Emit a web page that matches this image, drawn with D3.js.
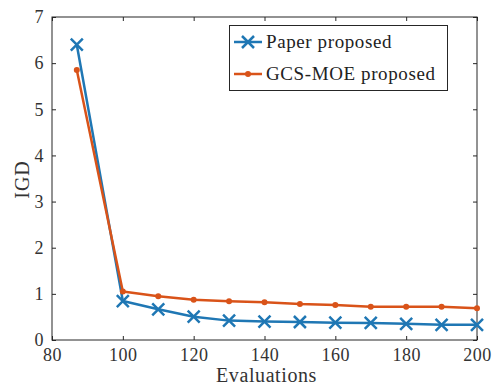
<!DOCTYPE html>
<html><head><meta charset="utf-8">
<script src="https://cdn.jsdelivr.net/npm/d3@7/dist/d3.min.js"></script>
<style>body{margin:0;background:#fff}svg{display:block}</style>
</head><body>
<script>
const evaluations = [87, 100, 110, 120, 130, 140, 150, 160, 170, 180, 190, 200];
const paperProposed = [6.40, 0.845, 0.665, 0.505, 0.42, 0.40, 0.39, 0.375, 0.37, 0.35, 0.33, 0.33];
const gcsMoeProposed = [5.85, 1.05, 0.95, 0.87, 0.84, 0.82, 0.78, 0.76, 0.72, 0.72, 0.72, 0.69];
const xTicks = [80, 100, 120, 140, 160, 180, 200];
const yTicks = [0, 1, 2, 3, 4, 5, 6, 7];
const seriesNames = ["Paper proposed", "GCS-MOE proposed"];
const seriesColors = ["#1f77b4", "#d95319"];

const W = 503, H = 386;
const m = {left: 52, right: 26, top: 17, bottom: 46};
const svg = d3.select("body").append("svg").attr("width", W).attr("height", H);
const x = d3.scaleLinear().domain([80, 200]).range([m.left, W - m.right]);
const y = d3.scaleLinear().domain([0, 7]).range([H - m.bottom, m.top]);
const font = "'Liberation Serif','DejaVu Serif',serif";
const axisColor = "#262626";

svg.append("rect").attr("x", x(80)).attr("y", y(7)).attr("width", x(200) - x(80)).attr("height", y(0) - y(7))
  .attr("fill", "none").attr("stroke", axisColor).attr("stroke-width", 1);

function styleAxis(g) {
  g.select(".domain").remove();
  g.selectAll(".tick line").attr("stroke", axisColor);
  g.selectAll(".tick text").attr("font-family", font).attr("font-size", 18).attr("fill", "#333")
    .attr("letter-spacing", 0.5);
}
svg.append("g").attr("transform", `translate(0,${y(0)})`)
  .call(d3.axisBottom(x).tickValues(xTicks).tickSizeInner(-4).tickSizeOuter(0).tickPadding(8).tickFormat(d3.format("d")))
  .call(styleAxis);
svg.append("g").attr("transform", `translate(0,${y(7)})`)
  .call(d3.axisTop(x).tickValues(xTicks).tickSizeInner(-4).tickSizeOuter(0).tickFormat(""))
  .call(styleAxis);
svg.append("g").attr("transform", `translate(${x(80)},0)`)
  .call(d3.axisLeft(y).tickValues(yTicks).tickSizeInner(-4).tickSizeOuter(0).tickPadding(8).tickFormat(d3.format("d")))
  .call(styleAxis);
svg.append("g").attr("transform", `translate(${x(200)},0)`)
  .call(d3.axisRight(y).tickValues(yTicks).tickSizeInner(-4).tickSizeOuter(0).tickFormat(""))
  .call(styleAxis);

svg.append("text").attr("x", (x(80) + x(200)) / 2 + 2).attr("y", 382).attr("text-anchor", "middle")
  .attr("font-family", font).attr("font-size", 20).attr("letter-spacing", 0.6).attr("fill", "#333").text("Evaluations");
svg.append("text").attr("transform", `translate(29,${(y(0) + y(7)) / 2 + 1}) rotate(-90)`).attr("text-anchor", "middle")
  .attr("font-family", font).attr("font-size", 20).attr("letter-spacing", 1).attr("fill", "#333").text("IGD");

const line = d3.line().x(d => x(d[0])).y(d => y(d[1]));
const data = [paperProposed, gcsMoeProposed].map(vals => evaluations.map((e, i) => [e, vals[i]]));

function drawMarker(g, i, cx, cy) {
  if (i === 0) {
    const s = 6;
    g.append("path").attr("d", `M${cx - s},${cy - s}L${cx + s},${cy + s}M${cx - s},${cy + s}L${cx + s},${cy - s}`)
      .attr("stroke", seriesColors[0]).attr("stroke-width", 2.5).attr("fill", "none");
  } else {
    g.append("circle").attr("cx", cx).attr("cy", cy).attr("r", 3).attr("fill", seriesColors[1]);
  }
}

[0, 1].forEach(i => {
  const g = svg.append("g");
  g.append("path").datum(data[i]).attr("d", line).attr("fill", "none")
    .attr("stroke", seriesColors[i]).attr("stroke-width", 2.5).attr("stroke-linejoin", "round");
  data[i].forEach(d => drawMarker(g, i, x(d[0]), y(d[1])));
});

const lg = svg.append("g");
lg.append("rect").attr("x", 229.5).attr("y", 25.5).attr("width", 218).attr("height", 65)
  .attr("fill", "#fff").attr("stroke", axisColor).attr("stroke-width", 1);
seriesNames.forEach((name, i) => {
  const ly = 42 + i * 32;
  lg.append("line").attr("x1", 234).attr("x2", 262).attr("y1", ly).attr("y2", ly)
    .attr("stroke", seriesColors[i]).attr("stroke-width", 2.5);
  drawMarker(lg, i, 248, ly);
  lg.append("text").attr("x", 266).attr("y", ly + 6).attr("font-family", font).attr("font-size", 19)
    .attr("letter-spacing", 0.6).attr("fill", "#222").text(name);
});
</script>
</body></html>
